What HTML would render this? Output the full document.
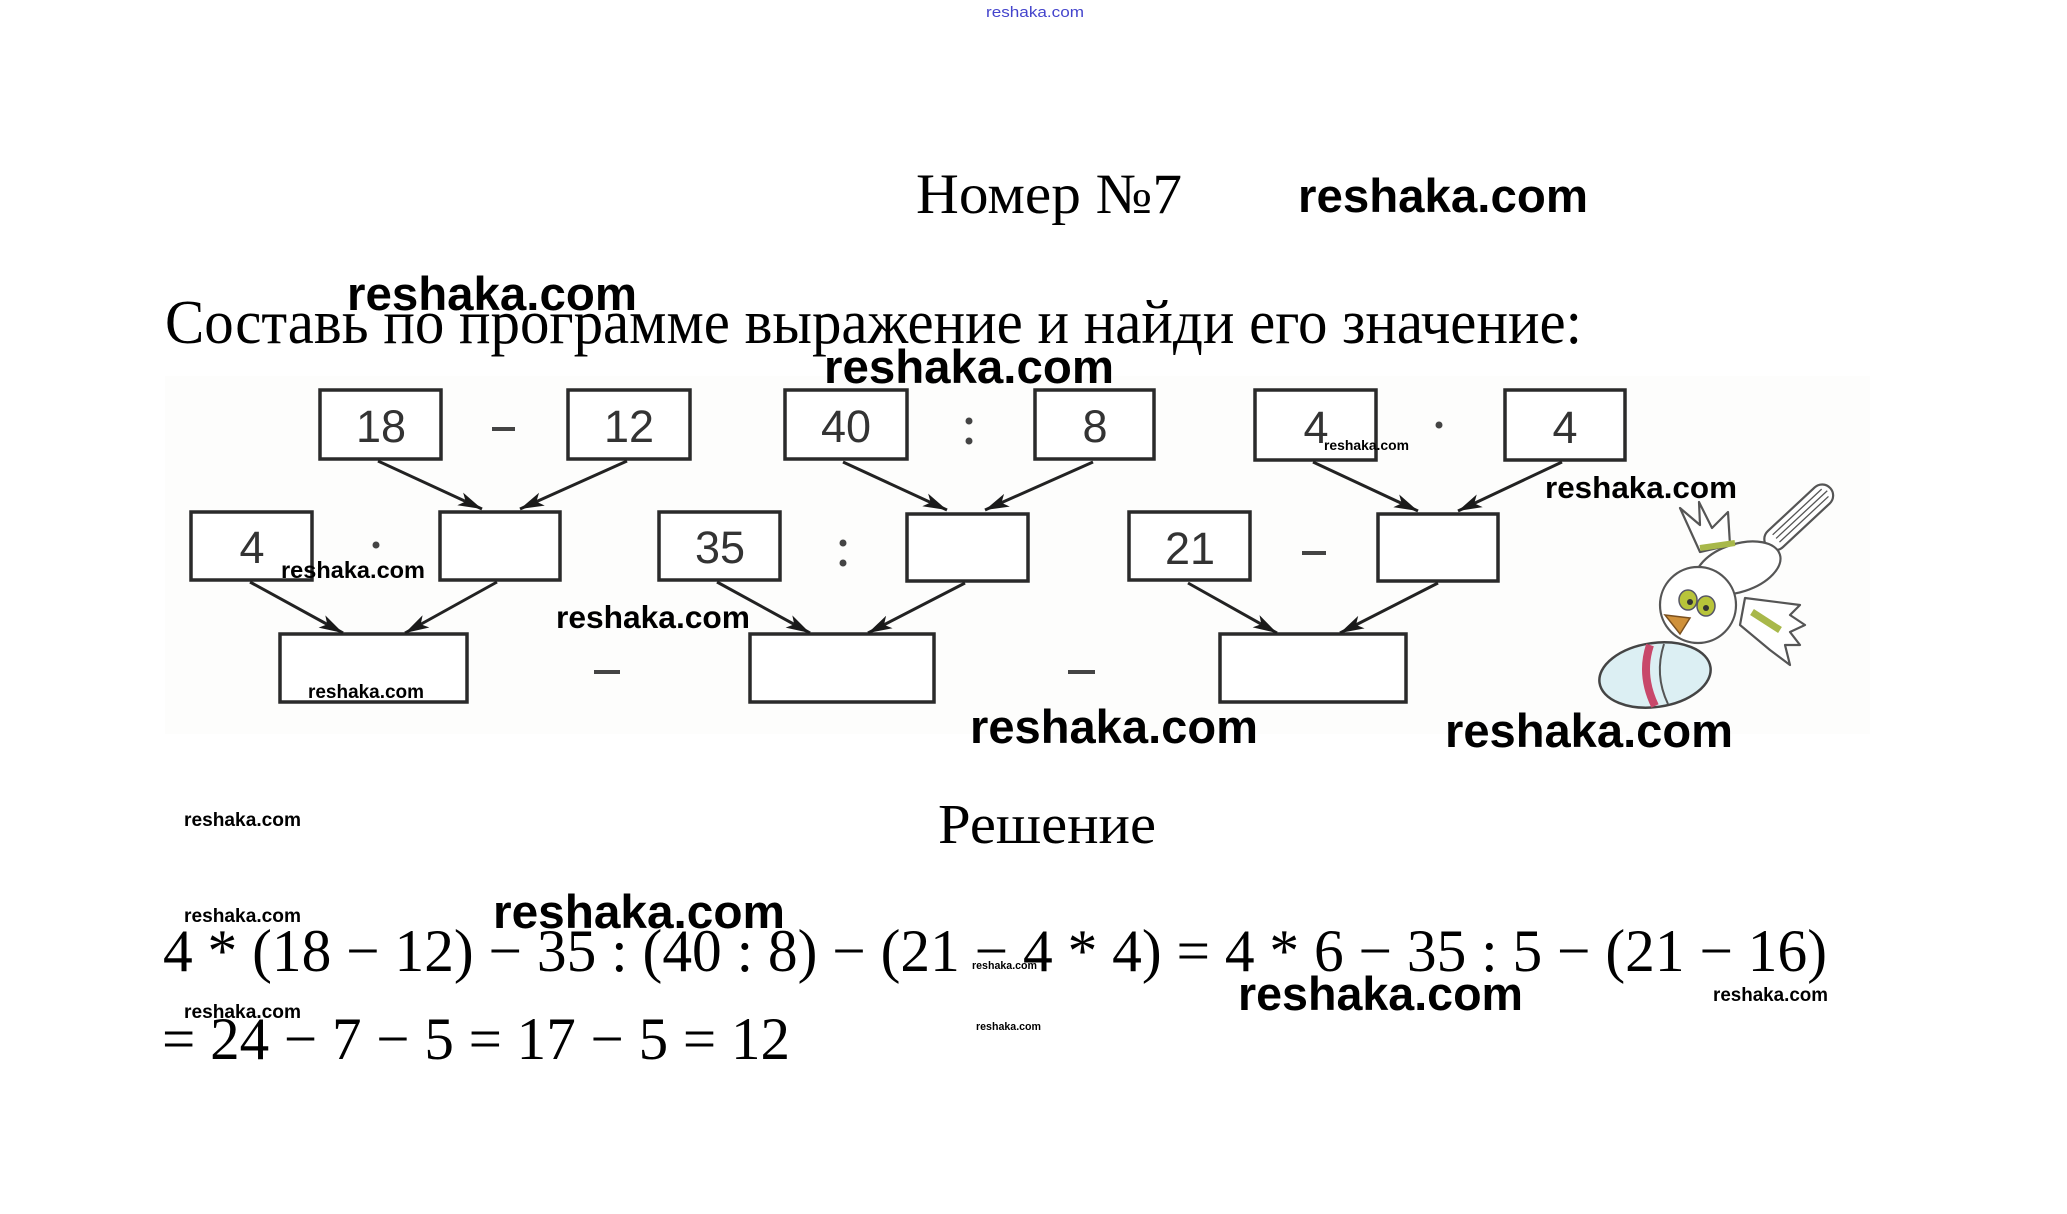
<!DOCTYPE html>
<html><head><meta charset="utf-8"><style>
html,body{margin:0;padding:0;background:#fff;}
svg{display:block;}
.wm{font-family:"Liberation Sans",sans-serif;font-weight:bold;fill:#000;}
.sr{font-family:"Liberation Serif","DejaVu Serif",serif;fill:#000;}
.num{font-family:"Liberation Sans",sans-serif;fill:#333;font-size:45px;text-anchor:middle;}
.bx{fill:#fff;stroke:#2a2a2a;stroke-width:3.5;}
.ar{stroke:#222;stroke-width:3;marker-end:url(#ah);}
.op{fill:#444;}
</style></head><body>
<svg width="2067" height="1214" viewBox="0 0 2067 1214" xmlns="http://www.w3.org/2000/svg">
<defs>
<marker id="ah" markerWidth="26" markerHeight="18" refX="24" refY="9" orient="auto" markerUnits="userSpaceOnUse">
<path d="M0,2 L24,9 L0,16 L6,9 Z" fill="#1a1a1a"/>
</marker>
</defs>
<rect width="2067" height="1214" fill="#fff"/>
<!-- diagram faint bg -->
<rect x="165" y="376" width="1705" height="358" fill="#fdfdfc"/>

<!-- top blue watermark -->
<text x="986" y="17" font-family="Liberation Sans Narrow, Liberation Sans, sans-serif" font-size="15" fill="#4444cc" textLength="98" lengthAdjust="spacingAndGlyphs">reshaka.com</text>

<text class="sr" x="916" y="213" font-size="57" textLength="266" lengthAdjust="spacingAndGlyphs">Номер №7</text>
<text class="sr" x="165" y="343" font-size="62" textLength="1417" lengthAdjust="spacingAndGlyphs">Составь по программе выражение и найди его значение:</text>

<!-- boxes top row -->
<rect class="bx" x="320" y="390" width="121" height="69"/>
<rect class="bx" x="568" y="390" width="122" height="69"/>
<rect class="bx" x="785" y="390" width="122" height="69"/>
<rect class="bx" x="1035" y="390" width="119" height="69"/>
<rect class="bx" x="1255" y="390" width="121" height="70"/>
<rect class="bx" x="1505" y="390" width="120" height="70"/>
<!-- middle row -->
<rect class="bx" x="191" y="512" width="121" height="68"/>
<rect class="bx" x="440" y="512" width="120" height="68"/>
<rect class="bx" x="659" y="512" width="121" height="68"/>
<rect class="bx" x="907" y="514" width="121" height="67"/>
<rect class="bx" x="1129" y="512" width="121" height="68"/>
<rect class="bx" x="1378" y="514" width="120" height="67"/>
<!-- bottom row -->
<rect class="bx" x="280" y="634" width="187" height="68"/>
<rect class="bx" x="750" y="634" width="184" height="68"/>
<rect class="bx" x="1220" y="634" width="186" height="68"/>

<!-- numbers -->
<text class="num" x="381" y="442">18</text>
<text class="num" x="629" y="442">12</text>
<text class="num" x="846" y="442">40</text>
<text class="num" x="1095" y="442">8</text>
<text class="num" x="1316" y="443">4</text>
<text class="num" x="1565" y="443">4</text>
<text class="num" x="252" y="563">4</text>
<text class="num" x="720" y="563">35</text>
<text class="num" x="1190" y="564">21</text>

<!-- operators -->
<rect class="op" x="492" y="427" width="23" height="4"/>
<circle class="op" cx="969" cy="421" r="3.5"/><circle class="op" cx="969" cy="441" r="3.5"/>
<circle class="op" cx="1439" cy="425" r="3.5"/>
<circle class="op" cx="376" cy="545" r="3.5"/>
<circle class="op" cx="843" cy="543" r="3.5"/><circle class="op" cx="843" cy="563" r="3.5"/>
<rect class="op" x="1302" y="551" width="24" height="4"/>
<rect class="op" x="594" y="670" width="26" height="4"/>
<rect class="op" x="1068" y="670" width="27" height="4"/>

<!-- arrows -->
<line class="ar" x1="378" y1="461" x2="482" y2="509"/>
<line class="ar" x1="627" y1="461" x2="520" y2="509"/>
<line class="ar" x1="250" y1="582" x2="343" y2="633"/>
<line class="ar" x1="497" y1="582" x2="405" y2="633"/>
<line class="ar" x1="843" y1="462" x2="947" y2="510"/>
<line class="ar" x1="1093" y1="462" x2="985" y2="510"/>
<line class="ar" x1="717" y1="582" x2="810" y2="633"/>
<line class="ar" x1="965" y1="583" x2="868" y2="633"/>
<line class="ar" x1="1313" y1="462" x2="1418" y2="511"/>
<line class="ar" x1="1562" y1="462" x2="1458" y2="511"/>
<line class="ar" x1="1188" y1="583" x2="1277" y2="633"/>
<line class="ar" x1="1438" y1="583" x2="1340" y2="633"/>

<!-- bird -->
<g stroke="#555" stroke-width="2.2" fill="#fff" stroke-linejoin="round">
  <g transform="rotate(-43 1798 518)">
    <rect x="1756" y="507" width="86" height="22" rx="11"/>
    <line x1="1768" y1="513" x2="1835" y2="513" stroke-width="1.3"/>
    <line x1="1768" y1="518" x2="1838" y2="518" stroke-width="1.3"/>
    <line x1="1768" y1="523" x2="1835" y2="523" stroke-width="1.3"/>
  </g>
  <path d="M1680,508 L1700,525 L1699,502 L1712,528 L1728,512 L1730,545 L1700,552 Z"/>
  <ellipse cx="1738" cy="568" rx="44" ry="24" transform="rotate(-18 1738 568)"/>
  <path d="M1745,598 L1800,605 L1790,615 L1805,625 L1790,632 L1800,645 L1785,645 L1790,665 L1770,650 L1740,625 Z"/>
  <circle cx="1698" cy="605" r="38"/>
  <ellipse cx="1655" cy="675" rx="56" ry="32" transform="rotate(-8 1655 675)" fill="#dceff3" stroke="#444" stroke-width="2.5"/>
</g>
<path d="M1700,548 L1735,543" stroke="#a8b84a" stroke-width="6" fill="none"/>
<path d="M1752,612 L1780,630" stroke="#a8b84a" stroke-width="7" fill="none"/>
<path d="M1650,645 Q1640,675 1655,706" stroke="#c8486a" stroke-width="8" fill="none"/>
<path d="M1664,644 Q1654,675 1668,704" stroke="#555" stroke-width="2" fill="none"/>
<ellipse cx="1688" cy="600" rx="9" ry="10" fill="#b8c43a" stroke="#556" stroke-width="1.5"/>
<ellipse cx="1706" cy="606" rx="9" ry="10" fill="#b8c43a" stroke="#556" stroke-width="1.5"/>
<circle cx="1690" cy="602" r="3" fill="#333"/><circle cx="1706" cy="608" r="3" fill="#333"/>
<path d="M1665,615 L1690,618 L1680,634 Z" fill="#d0913a" stroke="#7a5020" stroke-width="1.5"/>

<!-- solution -->
<text class="sr" x="938" y="843" font-size="56" textLength="218" lengthAdjust="spacingAndGlyphs">Решение</text>
<text class="sr" x="163" y="971" font-size="60" textLength="1664" lengthAdjust="spacingAndGlyphs">4 * (18 − 12) − 35 : (40 : 8) − (21 − 4 * 4) = 4 * 6 − 35 : 5 − (21 − 16)</text>
<text class="sr" x="162" y="1059" font-size="60" textLength="628" lengthAdjust="spacingAndGlyphs">= 24 − 7 − 5 = 17 − 5 = 12</text>

<!-- watermarks -->
<text class="wm" x="1298" y="212" font-size="47" textLength="290" lengthAdjust="spacingAndGlyphs">reshaka.com</text>
<text class="wm" x="347" y="310" font-size="47" textLength="290" lengthAdjust="spacingAndGlyphs">reshaka.com</text>
<text class="wm" x="824" y="383" font-size="47" textLength="290" lengthAdjust="spacingAndGlyphs">reshaka.com</text>
<text class="wm" x="1324" y="450" font-size="14" textLength="85" lengthAdjust="spacingAndGlyphs">reshaka.com</text>
<text class="wm" x="1545" y="498" font-size="31" textLength="192" lengthAdjust="spacingAndGlyphs">reshaka.com</text>
<text class="wm" x="281" y="578" font-size="23.5" textLength="144" lengthAdjust="spacingAndGlyphs">reshaka.com</text>
<text class="wm" x="556" y="628" font-size="31.5" textLength="194" lengthAdjust="spacingAndGlyphs">reshaka.com</text>
<text class="wm" x="308" y="698" font-size="19" textLength="116" lengthAdjust="spacingAndGlyphs">reshaka.com</text>
<text class="wm" x="970" y="743" font-size="47" textLength="288" lengthAdjust="spacingAndGlyphs">reshaka.com</text>
<text class="wm" x="1445" y="747" font-size="47" textLength="288" lengthAdjust="spacingAndGlyphs">reshaka.com</text>
<text class="wm" x="184" y="826" font-size="19" textLength="117" lengthAdjust="spacingAndGlyphs">reshaka.com</text>
<text class="wm" x="184" y="922" font-size="19" textLength="117" lengthAdjust="spacingAndGlyphs">reshaka.com</text>
<text class="wm" x="493" y="928" font-size="47" textLength="292" lengthAdjust="spacingAndGlyphs">reshaka.com</text>
<text class="wm" x="184" y="1018" font-size="19" textLength="117" lengthAdjust="spacingAndGlyphs">reshaka.com</text>
<text class="wm" x="972" y="969" font-size="11" textLength="65" lengthAdjust="spacingAndGlyphs">reshaka.com</text>
<text class="wm" x="1238" y="1010" font-size="47" textLength="285" lengthAdjust="spacingAndGlyphs">reshaka.com</text>
<text class="wm" x="1713" y="1001" font-size="19" textLength="115" lengthAdjust="spacingAndGlyphs">reshaka.com</text>
<text class="wm" x="976" y="1030" font-size="11" textLength="65" lengthAdjust="spacingAndGlyphs">reshaka.com</text>
</svg>
</body></html>
